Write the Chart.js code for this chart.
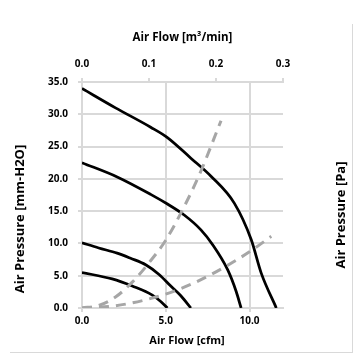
<!DOCTYPE html>
<html>
<head>
<meta charset="utf-8">
<script src="https://cdn.jsdelivr.net/npm/chart.js@4.4.1/dist/chart.umd.min.js"></script>
<style>
  html, body { margin: 0; padding: 0; background: #ffffff; }
  #wrap { position: relative; width: 355px; height: 355px; }
  #frame { position: absolute; left: 10px; top: 24px; width: 343px; height: 329px;
           box-sizing: border-box; border-right: 1px solid #d9d9d9; border-bottom: 1px solid #d9d9d9; }
  #c { position: absolute; left: 0; top: 0; }
</style>
</head>
<body>
<div id="wrap">
  <div id="frame"></div>
  <canvas id="c" width="355" height="355"></canvas>
</div>
<script>
// ---- Data ----
// Fan P-Q curves: air flow [cfm] vs static pressure [mm-H2O]
const curve1Cfm = [0, 2.0, 4.1, 5.1, 6.5, 7.7, 9.1, 10.1, 10.7, 11.6];
const curve1Mm  = [34.0, 31.0, 28.0, 26.4, 23.2, 20.4, 16.2, 10.6, 5.4, 0];
const curve2Cfm = [0, 2.1, 4.1, 5.1, 6.1, 7.1, 7.8, 8.7, 9.2, 9.5];
const curve2Mm  = [22.5, 20.3, 17.6, 16.1, 14.4, 12.1, 9.8, 5.9, 2.6, 0];
const curve3Cfm = [0, 1.0, 2.1, 2.9, 3.8, 4.6, 5.3, 5.9, 6.5];
const curve3Mm  = [10.1, 9.3, 8.5, 7.7, 6.7, 5.2, 3.4, 1.9, 0];
const curve4Cfm = [0, 1.8, 3.0, 4.2, 4.7, 5.1];
const curve4Mm  = [5.5, 4.5, 3.4, 2.0, 1.0, 0];
// System impedance curves (dashed grey)
const sysHighCfm = [0, 1.0, 2.0, 3.0, 4.0, 5.0, 6.0, 7.0, 8.3];
const sysHighMm  = [0, 0.4, 1.7, 4.0, 7.0, 10.5, 15.2, 20.6, 29.0];
const sysLowCfm  = [0, 2.0, 4.0, 6.0, 8.0, 10.0, 11.3];
const sysLowMm   = [0, 0.35, 1.4, 3.1, 5.6, 8.7, 11.1];

// Axis ranges / ticks
const cfmRange = [0, 12];     const cfmStep = 5;
const m3Range  = [0, 0.3];    const m3Step  = 0.1;
const mmRange  = [0, 35];     const mmStep  = 5;

const titles = {
  top: 'Air Flow [m³/min]',
  bottom: 'Air Flow [cfm]',
  left: 'Air Pressure [mm-H2O]',
  right: 'Air Pressure [Pa]'
};

const zip = (xs, ys) => xs.map((x, i) => ({ x: x, y: ys[i] }));

const FONT = '"Open Sans", Lato, "DejaVu Sans", sans-serif';
const tickFont = { family: FONT, size: 10, weight: 'bold' };
const titleFont = { family: FONT, size: 11.5, weight: 'bold' };
const vTitleFont = 'bold 13px ' + FONT;
const bTitleFont = 'bold 11px ' + FONT;
const GRID = '#d9d9d9';

const fanStyle = { borderColor: '#000000', borderWidth: 2.75, pointRadius: 0, showLine: true,
                   cubicInterpolationMode: 'monotone', fill: false, order: 2 };
const sysStyle = { borderColor: '#a6a6a6', borderWidth: 3, borderDash: [10, 7], pointRadius: 0,
                   showLine: true, cubicInterpolationMode: 'monotone', fill: false, order: 1 };

// Axis titles placed like the reference (vertical ones read bottom-to-top)
const axisTitlesPlugin = {
  id: 'axisTitles',
  afterDraw(chart) {
    const ctx = chart.ctx;
    const ca = chart.chartArea;
    const cy = (ca.top + ca.bottom) / 2;
    const cx = (ca.left + ca.right) / 2;
    const items = [
      { scale: chart.scales.y,  font: vTitleFont, x: chart.scales.y.left + 20,   y: cy + 24, rot: -Math.PI / 2 },
      { scale: chart.scales.y2, font: vTitleFont, x: chart.scales.y2.right - 14, y: cy + 20, rot: -Math.PI / 2 },
      { scale: chart.scales.x,  font: bTitleFont, x: cx + 4.5, y: chart.scales.x.bottom - 14, rot: 0 }
    ];
    ctx.save();
    ctx.fillStyle = '#000000';
    ctx.textAlign = 'center';
    ctx.textBaseline = 'middle';
    items.forEach(it => {
      ctx.save();
      ctx.font = it.font;
      ctx.translate(it.x, it.y);
      ctx.rotate(it.rot);
      ctx.fillText(it.scale.options.title.text, 0, 0);
      ctx.restore();
    });
    ctx.restore();
  }
};

Chart.defaults.color = '#000000';

new Chart(document.getElementById('c'), {
  type: 'scatter',
  data: {
    datasets: [
      Object.assign({ label: 'Fan 1', data: zip(curve1Cfm, curve1Mm) }, fanStyle),
      Object.assign({ label: 'Fan 2', data: zip(curve2Cfm, curve2Mm) }, fanStyle),
      Object.assign({ label: 'Fan 3', data: zip(curve3Cfm, curve3Mm) }, fanStyle),
      Object.assign({ label: 'Fan 4', data: zip(curve4Cfm, curve4Mm) }, fanStyle),
      Object.assign({ label: 'System A', data: zip(sysHighCfm, sysHighMm) }, sysStyle),
      Object.assign({ label: 'System B', data: zip(sysLowCfm, sysLowMm) }, sysStyle)
    ]
  },
  options: {
    responsive: false,
    animation: false,
    events: [],
    layout: { padding: 0 },
    plugins: { legend: { display: false }, tooltip: { enabled: false } },
    scales: {
      x: {
        type: 'linear', position: 'bottom', min: cfmRange[0], max: cfmRange[1],
        ticks: { stepSize: cfmStep, includeBounds: false, font: tickFont, padding: 3,
                 callback: v => Number(v).toFixed(1) },
        grid: { color: GRID, lineWidth: 2, tickLength: 4 },
        border: { color: GRID, width: 2 },
        title: { display: false, text: titles.bottom },
        afterFit: s => { s.height = 47; }
      },
      x2: {
        type: 'linear', position: 'top', display: true, min: m3Range[0], max: m3Range[1],
        ticks: { stepSize: m3Step, font: tickFont, padding: 8,
                 callback: v => Number(v).toFixed(1) },
        grid: { drawOnChartArea: false, color: GRID, lineWidth: 2, tickLength: 4 },
        border: { color: GRID, width: 2 },
        title: { display: true, text: titles.top, font: titleFont, padding: { top: 31, bottom: 0 } },
        afterFit: s => { s.height = 82; }
      },
      y: {
        type: 'linear', position: 'left', min: mmRange[0], max: mmRange[1],
        ticks: { stepSize: mmStep, font: tickFont, padding: 10,
                 callback: v => Number(v).toFixed(1) },
        grid: { color: GRID, lineWidth: 2, tickLength: 4 },
        border: { color: GRID, width: 2 },
        title: { display: false, text: titles.left },
        afterFit: s => { s.width = 82; }
      },
      y2: {
        type: 'linear', position: 'right', display: true, min: mmRange[0], max: mmRange[1],
        ticks: { display: false },
        grid: { display: false, drawTicks: false },
        border: { display: false },
        title: { display: false, text: titles.right },
        afterFit: s => { s.width = 72; }
      }
    }
  },
  plugins: [axisTitlesPlugin]
});
</script>
</body>
</html>
